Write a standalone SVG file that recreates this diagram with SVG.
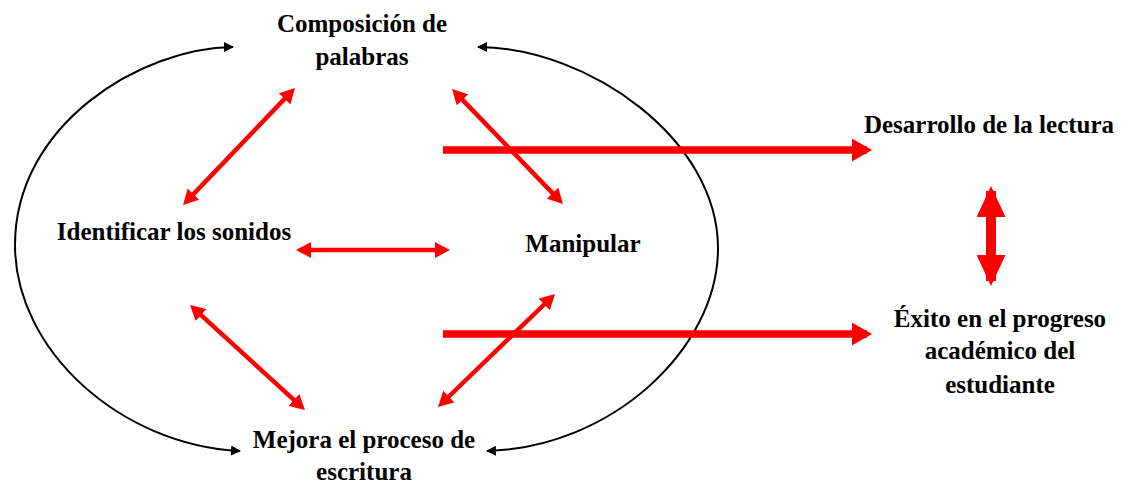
<svg xmlns="http://www.w3.org/2000/svg" width="1131" height="485" viewBox="0 0 1131 485">
<style>
text{font-family:"Liberation Serif","Times New Roman",serif;font-weight:bold;font-size:25px;fill:#000;text-anchor:middle}
.arc{fill:none;stroke:#000;stroke-width:2;marker-start:url(#hb);marker-end:url(#hb)}
.thin{fill:none;stroke:#ff0000;stroke-width:4.5;marker-start:url(#hr);marker-end:url(#hr)}
.thick{fill:none;stroke:#ff0000;stroke-width:7.5;marker-end:url(#ht)}
.vert{fill:none;stroke:#ff0000;stroke-width:10;marker-start:url(#hv);marker-end:url(#hv)}
</style>
<defs>
<marker id="hb" markerUnits="userSpaceOnUse" viewBox="0 0 10 10" markerWidth="10" markerHeight="10" refX="9" refY="5" orient="auto-start-reverse"><path d="M0,0 L10,5 L0,10 z" fill="#000"/></marker>
<marker id="hr" markerUnits="userSpaceOnUse" viewBox="0 0 15 16" markerWidth="15" markerHeight="16" refX="10" refY="8" orient="auto-start-reverse"><path d="M0,0 L15,8 L0,16 z" fill="#ff0000"/></marker>
<marker id="ht" markerUnits="userSpaceOnUse" viewBox="0 0 20 23" markerWidth="20" markerHeight="23" refX="15" refY="11.5" orient="auto"><path d="M0,0 L20,11.5 L0,23 z" fill="#ff0000"/></marker>
<marker id="hv" markerUnits="userSpaceOnUse" viewBox="0 0 31 29" markerWidth="31" markerHeight="29" refX="26" refY="14.5" orient="auto-start-reverse"><path d="M0,0 L31,14.5 L0,29 z" fill="#ff0000"/></marker>
</defs>
<g id="connectors">
<path class="arc" d="M233,47 C140,48 15,125 15,245 C15,350 120,445 240,451"/>
<path class="arc" d="M478,47 C590,48 718,140 718,248 C718,350 610,448 487,451"/>
<path class="thin" d="M291.5,91.6 L186.5,201.4"/>
<path class="thin" d="M455.5,92.6 L559.5,200.4"/>
<path class="thin" d="M301,250 L445,250"/>
<path class="thin" d="M193.7,308.4 L301.3,406.6"/>
<path class="thin" d="M551.4,297.5 L441.6,403.5"/>
<path class="thick" d="M443,150 L867,150"/>
<path class="thick" d="M443,334 L867,334"/>
<path class="vert" d="M991,191 L991,281"/>
</g>
<g id="composicion"><text x="362" y="32">Composición de</text><text x="362" y="65">palabras</text></g>
<g id="identificar"><text x="174" y="240">Identificar los sonidos</text></g>
<g id="manipular"><text x="583" y="252">Manipular</text></g>
<g id="mejora"><text x="364" y="448">Mejora el proceso de</text><text x="364" y="480">escritura</text></g>
<g id="desarrollo"><text x="989" y="133">Desarrollo de la lectura</text></g>
<g id="exito"><text x="1000" y="327">Éxito en el progreso</text><text x="1000" y="359">académico del</text><text x="1000" y="393">estudiante</text></g>
</svg>
